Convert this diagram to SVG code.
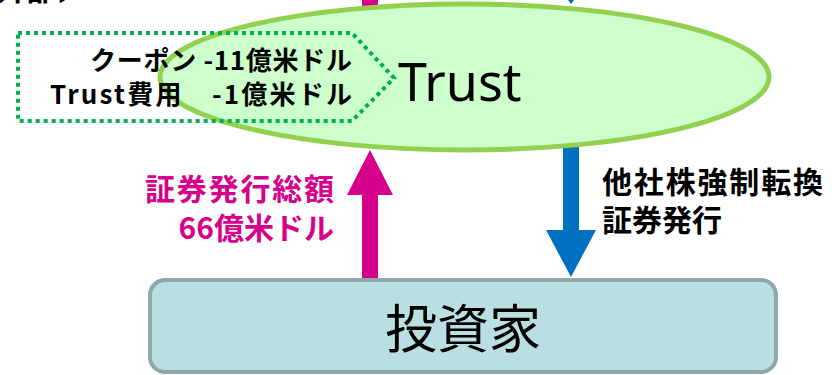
<svg xmlns="http://www.w3.org/2000/svg" width="832" height="375" viewBox="0 0 832 375">
<style>
.jp{font-family:"Noto Sans CJK JP","Noto Sans",sans-serif;font-weight:bold}
.big{font-family:"Noto Sans","Noto Sans CJK JP",sans-serif;font-weight:normal;fill:#000}
</style>
<rect width="832" height="375" fill="#fff"/>
<text class="jp" x="-4" y="0" font-size="30" fill="#000">外部▶</text>
<g id="connectors">
  <rect x="362" y="0" width="16" height="6" fill="#D6008D"/>
  <polygon points="568,0 574,0 571,4" fill="#0070C0"/>
  <polygon points="362,279 362,195 347,195 370,150 393,195 378,195 378,279" fill="#D6008D"/>
  <polygon points="563,146 579,146 579,230 596,230 571,277 546,230 563,230" fill="#0070C0"/>
</g>
<g id="trust">
  <ellipse cx="464.5" cy="77" rx="304.5" ry="73" fill="#CCFFCC" stroke="#92D050" stroke-width="5"/>
  <text class="big" x="398" y="101" font-size="52">Trust</text>
</g>
<g id="cost-note">
  <polygon points="18,33 352,33 394,78 352,121 18,121" fill="none" stroke="#00B050" stroke-width="4" stroke-dasharray="4 4"/>
  <text class="jp" x="352" y="70" font-size="26" fill="#000" text-anchor="end" textLength="262" lengthAdjust="spacing">クーポン -11億米ドル</text>
  <text class="jp" x="352" y="104" font-size="26" fill="#000" text-anchor="end" textLength="302" lengthAdjust="spacing">Trust費用　-1億米ドル</text>
</g>
<g id="label-left">
  <text class="jp" x="334" y="200" font-size="30" fill="#D6008D" text-anchor="end" textLength="189" lengthAdjust="spacing">証券発行総額</text>
  <text class="jp" x="334" y="239" font-size="30" fill="#D6008D" text-anchor="end">66億米ドル</text>
</g>
<g id="label-right">
  <text class="jp" x="602" y="193" font-size="30" fill="#000" textLength="221" lengthAdjust="spacing">他社株強制転換</text>
  <text class="jp" x="602" y="231" font-size="30" fill="#000">証券発行</text>
</g>
<g id="investor">
  <rect x="150" y="280" width="626" height="92" rx="15" fill="#B9DFE2" stroke="#8FA8AA" stroke-width="4"/>
  <text class="big" x="463" y="348" font-size="52" text-anchor="middle" style="font-family:'Noto Sans CJK JP',sans-serif">投資家</text>
</g>
</svg>
